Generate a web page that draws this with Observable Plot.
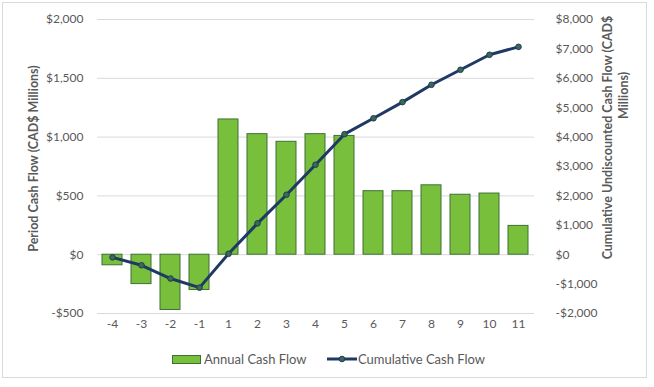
<!DOCTYPE html>
<html>
<head>
<meta charset="utf-8">
<script src="https://cdn.jsdelivr.net/npm/d3@7"></script>
<script src="https://cdn.jsdelivr.net/npm/@observablehq/plot@0.6"></script>
<style>
  html, body { margin: 0; padding: 0; background: #fff; }
  body { width: 654px; height: 387px; position: relative; font-family: Lato, "Open Sans", sans-serif; overflow: hidden; }
  #frame { position: absolute; left: 2px; top: 2px; width: 645px; height: 376px; border: 1px solid #d9d9d9; box-sizing: border-box; }
  #chart { position: absolute; left: 0; top: 0; }
  #legend { position: absolute; top: 350px; left: 0; width: 654px; height: 18px; font-size: 13px; color: #595959; }
  .item { position: absolute; top: 0; display: flex; align-items: center; height: 18px; }
  .sw { display: inline-block; width: 27px; height: 7px; background: #78c03c; border: 1px solid #3f6f36; margin-right: 3px; }
</style>
</head>
<body>
<div id="frame"></div>
<div id="chart"></div>
<div id="legend">
  <div class="item" style="left:172px"><span class="sw"></span>Annual Cash Flow</div>
  <div class="item" style="left:327px">
    <svg width="30" height="10" style="margin-right:1px"><line x1="0" y1="5" x2="30" y2="5" stroke="#1f3864" stroke-width="3"/><circle cx="15" cy="5" r="2.8" fill="#3b6b4c" stroke="#1f3864" stroke-width="1"/></svg>Cumulative Cash Flow
  </div>
</div>
<script>
const categories = ["-4","-3","-2","-1","1","2","3","4","5","6","7","8","9","10","11"];
const annualCashFlow = [-90, -250, -470, -300, 1150, 1025, 960, 1025, 1010, 540, 540, 590, 510, 520, 245];
const cumulativeCashFlow = [-90, -360, -810, -1120, 30, 1065, 2040, 3060, 4100, 4640, 5190, 5780, 6290, 6800, 7070];
const leftTicks = [-500, 0, 500, 1000, 1500, 2000];
const rightTicks = [-2000, -1000, 0, 1000, 2000, 3000, 4000, 5000, 6000, 7000, 8000];
const leftTitle = "Period Cash Flow (CAD$ Millions)";
const rightTitle1 = "Cumulative Undiscounted Cash Flow (CAD$";
const rightTitle2 = "Millions)";
const ratio = 4; // right axis / left axis

const data = categories.map((c, i) => ({cat: c, annual: annualCashFlow[i], cum: cumulativeCashFlow[i]}));
const money = v => (v < 0 ? "-$" : "$") + d3.format(",")(Math.abs(v));

const chart = Plot.plot({
  width: 654,
  height: 340,
  marginLeft: 97,
  marginRight: 120,
  marginTop: 19,
  marginBottom: 27,
  style: {fontFamily: "Lato, 'Open Sans', sans-serif", fontSize: "12px", color: "#595959", background: "transparent"},
  x: {domain: categories, paddingInner: 0.3, paddingOuter: 0.15, label: null},
  y: {domain: [-500, 2000], label: null},
  marks: [
    Plot.ruleY(leftTicks, {stroke: "#d9d9d9", strokeWidth: 1}),
    Plot.barY(data, {x: "cat", y: "annual", fill: "#78c03c", stroke: "#3f6f36", strokeWidth: 1}),
    Plot.line(data, {x: "cat", y: d => d.cum / ratio, stroke: "#1f3864", strokeWidth: 3}),
    Plot.dot(data, {x: "cat", y: d => d.cum / ratio, r: 2.8, fill: "#3b6b4c", stroke: "#1f3864", strokeWidth: 1}),
    Plot.axisX({tickSize: 0, tickPadding: 6, fill: "#595959", fontSize: 12, label: null}),
    Plot.axisY({anchor: "left", ticks: leftTicks, tickSize: 0, tickPadding: 14, tickFormat: money, fill: "#595959", fontSize: 12, label: null}),
    Plot.axisY({anchor: "right", ticks: rightTicks.map(v => v / ratio), tickSize: 0, tickPadding: 21, tickFormat: v => money(v * ratio), fill: "#595959", fontSize: 12, textAnchor: "start", label: null}),
    Plot.text([leftTitle], {frameAnchor: "left", textAnchor: "middle", dx: -64, dy: -8, rotate: -90, fill: "#595959", fontWeight: "bold", fontSize: 12.5, lineAnchor: "middle"}),
    Plot.text([rightTitle1], {frameAnchor: "right", textAnchor: "middle", dx: 73, dy: -29, rotate: -90, fill: "#595959", fontWeight: "bold", fontSize: 12.5, lineAnchor: "middle"}),
    Plot.text([rightTitle2], {frameAnchor: "right", textAnchor: "middle", dx: 89, dy: -71, rotate: -90, fill: "#595959", fontWeight: "bold", fontSize: 12.5, lineAnchor: "middle"})
  ]
});
document.getElementById("chart").appendChild(chart);
</script>
</body>
</html>
